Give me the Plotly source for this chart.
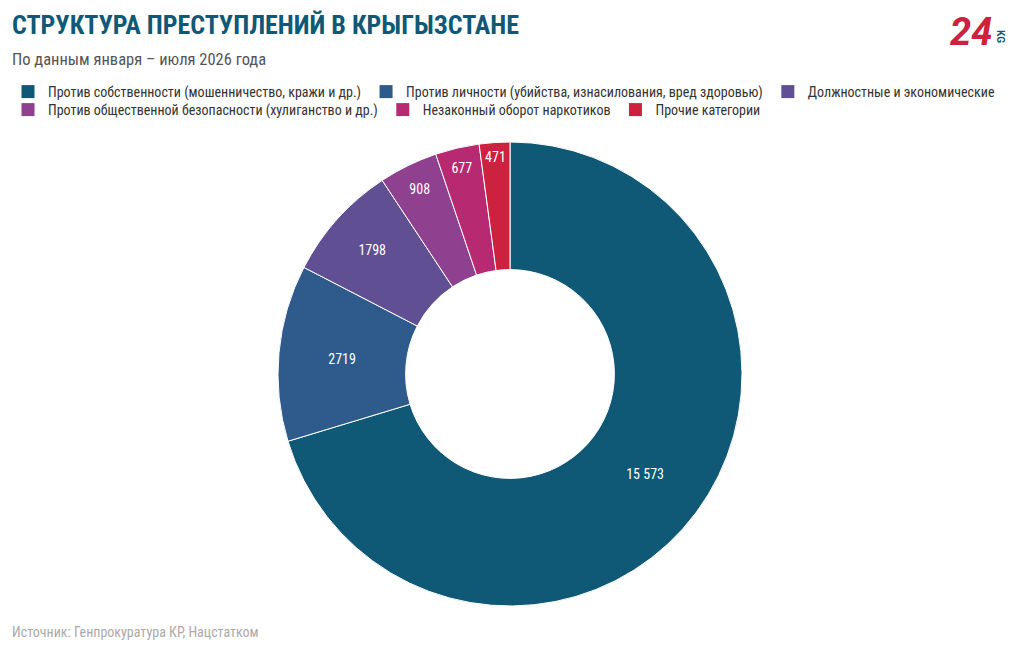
import plotly.graph_objects as go

# Данные
categories = [
    "Против собственности (мошенничество, кражи и др.)",
    "Против личности (убийства, изнасилования, вред здоровью)",
    "Должностные и экономические",
    "Против общественной безопасности (хулиганство и др.)",
    "Незаконный оборот наркотиков",
    "Прочие категории",
]
values = [15573, 2719, 1798, 908, 677, 471]
value_labels = ["15 573", "2719", "1798", "908", "677", "471"]
colors = ["#0f5876", "#2e5a8c", "#614f94", "#8f418f", "#b72a72", "#cc2240"]
legend_rows = ["legend", "legend", "legend", "legend2", "legend2", "legend2"]

FONT = "Roboto Condensed, Liberation Sans Narrow, Roboto, sans-serif"
W, H = 1020, 650
OFF = 8  # отступ body в браузере


def px(x):
    return (x - OFF) / W


def py(y):
    return 1 - (y - OFF) / H


fig = go.Figure()

fig.add_trace(go.Pie(
    labels=categories,
    values=values,
    text=value_labels,
    textinfo="text",
    textposition="inside",
    insidetextorientation="horizontal",
    textfont=dict(color="white", size=14, family=FONT),
    marker=dict(colors=colors, line=dict(color="white", width=1)),
    hole=0.45,
    sort=False,
    direction="clockwise",
    rotation=0,
    showlegend=False,
    hoverinfo="label+value+percent",
    domain=dict(x=[px(278), px(742)], y=[py(606), py(142)]),
))

# легенда (по строкам, как в оригинале)
for name, col, lg in zip(categories, colors, legend_rows):
    fig.add_trace(go.Scatter(
        x=[None], y=[None], mode="markers", name=name, legend=lg,
        marker=dict(symbol="square", size=13, color=col),
        hoverinfo="skip",
    ))

legend_style = dict(
    orientation="h", xanchor="left", yanchor="top",
    font=dict(size=14, color="#333333", family=FONT),
    itemwidth=30, bgcolor="rgba(0,0,0,0)",
)

fig.update_layout(
    width=W,
    height=H,
    margin=dict(l=0, r=0, t=0, b=0),
    paper_bgcolor="white",
    plot_bgcolor="white",
    font=dict(family=FONT, color="#333333"),
    xaxis=dict(visible=False),
    yaxis=dict(visible=False),
    legend=dict(x=0, y=py(76), **legend_style),
    legend2=dict(x=0, y=py(94), **legend_style),
)

fig.add_annotation(text="<b>СТРУКТУРА ПРЕСТУПЛЕНИЙ В КРЫГЫЗСТАНЕ</b>",
                   x=px(10), y=py(25), xref="paper", yref="paper",
                   xanchor="left", yanchor="middle", showarrow=False,
                   font=dict(size=26, color="#0f5876", family=FONT))
fig.add_annotation(text="По данным января – июля 2026 года",
                   x=px(10), y=py(60), xref="paper", yref="paper",
                   xanchor="left", yanchor="middle", showarrow=False,
                   font=dict(size=16.5, color="#555555", family=FONT))
fig.add_annotation(text="Источник: Генпрокуратура КР, Нацстатком",
                   x=px(10), y=py(632), xref="paper", yref="paper",
                   xanchor="left", yanchor="middle", showarrow=False,
                   font=dict(size=14, color="#aaaaaa", family=FONT))
# логотип 24.kg
fig.add_annotation(text="<b><i>24</i></b>",
                   x=px(994), y=py(32), xref="paper", yref="paper",
                   xanchor="right", yanchor="middle", showarrow=False,
                   font=dict(size=38, color="#cc2240", family="Roboto, sans-serif"))
fig.add_annotation(text="<b>KG</b>",
                   x=px(1001), y=py(36), xref="paper", yref="paper",
                   xanchor="center", yanchor="middle", showarrow=False, textangle=90,
                   font=dict(size=10, color="#0f5876", family="Roboto, sans-serif"))

fig.write_html("out.html")
